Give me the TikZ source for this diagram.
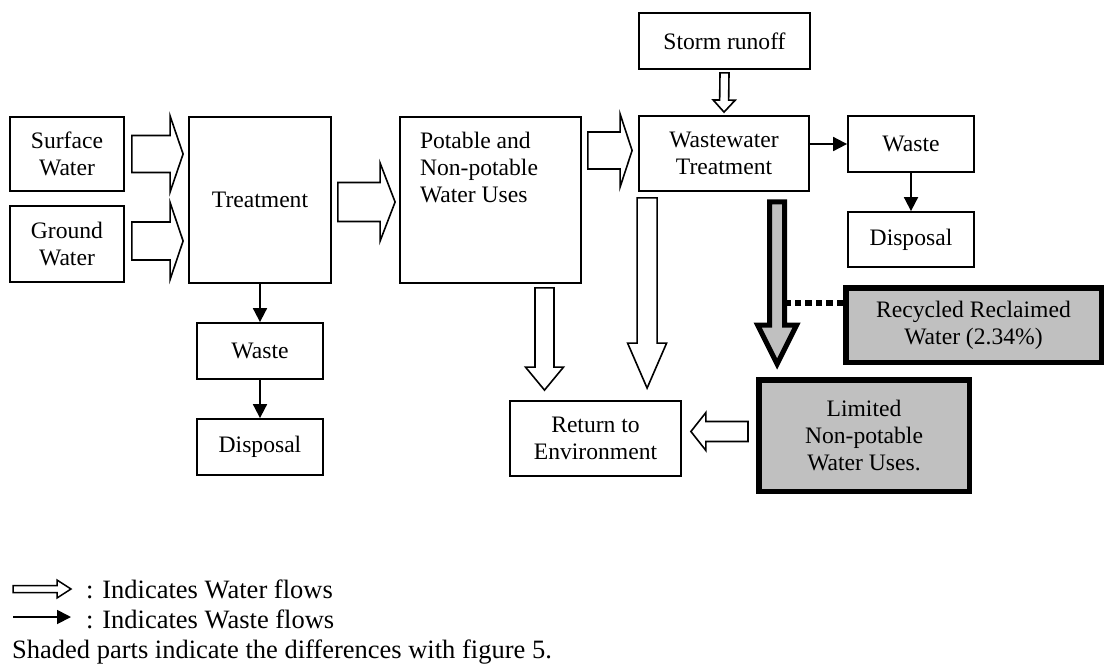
\documentclass[tikz,border=0pt]{standalone}
\usepackage{fontspec}
\setmainfont{Liberation Serif}
\usetikzlibrary{calc,arrows.meta}
\definecolor{shadegray}{RGB}{192,192,192}
\newcommand\boxfont{\fontsize{23.6}{27}\selectfont}
\newcommand\legfont{\fontsize{26.5}{30}\selectfont}
% block arrow: [style]{start}{end}{shaft half width}{head half width}{head length}
\newcommand\barrow[6][]{%
  \coordinate (bahead) at ($(#3)!#6!(#2)$);
  \draw[flowarrow,#1] ($(#2)!#4!90:(#3)$) -- ($(bahead)!#4!90:(#3)$) --
    ($(bahead)!#5!90:(#3)$) -- (#3) -- ($(bahead)!#5!-90:(#3)$) --
    ($(bahead)!#4!-90:(#3)$) -- ($(#2)!#4!-90:(#3)$) -- cycle;}
\tikzset{
  box/.style={draw, line width=1.8pt, align=center, inner sep=0pt, font=\boxfont},
  shadebox/.style={draw, line width=5.5pt, fill=shadegray, align=center, inner sep=0pt, font=\boxfont},
  flowarrow/.style={draw, line width=1.6pt, fill=white, miter limit=20},
  shadearrow/.style={line width=5pt, fill=shadegray},
  wasteflow/.style={line width=1.8pt, -{Triangle[length=14pt,width=14pt]}},
  dotline/.style={line width=5.5pt, dash pattern=on 6.5pt off 4pt},
  legtext/.style={inner sep=0pt, font=\legfont}
}
\begin{document}
\begin{tikzpicture}[x=1pt,y=-1pt]
\useasboundingbox (0,0) rectangle (1107,665);
% nodes
\node[box, minimum width=114pt, minimum height=74pt] (sw) at (67,154) {Surface\\Water};
\node[box, minimum width=114pt, minimum height=76pt] (gw) at (67,244) {Ground\\Water};
\node[box, minimum width=142pt, minimum height=166pt] (treat) at (260,200) {Treatment};
\node[box, minimum width=181pt, minimum height=166pt] (pot) at (490.5,200)
  {\parbox[c][136pt][t]{141pt}{\raggedright Potable and\\Non-potable\\Water Uses}};
\node[box, minimum width=171pt, minimum height=56pt] (storm) at (724.5,41) {Storm runoff};
\node[box, minimum width=170pt, minimum height=75pt] (ww) at (724,153.5) {Wastewater\\Treatment};
\node[box, minimum width=126pt, minimum height=56pt] (wasteR) at (911,144) {Waste};
\node[box, minimum width=126pt, minimum height=55pt] (dispR) at (911,239.5) {Disposal};
\node[shadebox, minimum width=255.5pt, minimum height=74.5pt] (recyc) at (973.5,325) {Recycled Reclaimed\\Water (2.34\%)};
\node[shadebox, minimum width=210.5pt, minimum height=111.5pt] (limited) at (864,435.5) {Limited\\Non-potable\\Water Uses.};
\node[box, minimum width=171pt, minimum height=75pt] (ret) at (595.5,438.5) {Return to\\Environment};
\node[box, minimum width=126pt, minimum height=56pt] (wasteL) at (260,351) {Waste};
\node[box, minimum width=126pt, minimum height=56pt] (dispL) at (260,447) {Disposal};
% water flows
\barrow{$(sw.east)+(7,0)$}{$(sw.east -| treat.west)+(-5,0)$}{18.5pt}{38pt}{13pt}
\barrow{$(gw.east)+(7,-3)$}{$(gw.east -| treat.west)+(-5,-3)$}{19pt}{38.5pt}{13pt}
\barrow{$(treat.east)+(6,2)$}{$(treat.east -| pot.west)+(-4,2)$}{19.5pt}{39pt}{15pt}
\barrow{$(pot.east |- ww.west)+(6,-3)$}{$(ww.west)+(-6,-3)$}{18.5pt}{36.5pt}{12pt}
\barrow{$(storm.south)+(0,3)$}{$(ww.north)+(0,-3)$}{4.5pt}{11pt}{12pt}
\barrow{$(ww.south west)+(9,6)$}{$(ww.south west |- ret.north)+(9,-12)$}{10pt}{19.5pt}{45pt}
\barrow{$(pot.south)+(54,4)$}{$(pot.south |- ret.north)+(54,-10)$}{9.5pt}{19pt}{23pt}
\barrow{$(limited.west)+(-8,-4)$}{$(ret.east |- limited.west)+(9,-4)$}{10pt}{19pt}{15pt}
% shaded recycled flow
\coordinate (rs) at ($(ww.south west)+(139,10)$);
\coordinate (re) at ($(ww.south west |- limited.north)+(139,-13)$);
\barrow[shadearrow]{rs}{re}{7.5pt}{19.5pt}{39pt}
\coordinate (dotend) at ($(rs |- recyc.west)+(3,-22)$);
\draw[dotline] ($(recyc.west)+(0,-22)$) -- (dotend);
% waste flows
\draw[wasteflow] (treat.south) -- (wasteL.north);
\draw[wasteflow] (wasteL.south) -- (dispL.north);
\draw[wasteflow] (ww.east |- wasteR.west) -- (wasteR.west);
\draw[wasteflow] (wasteR.south) -- (dispR.north);
% legend
\node[legtext, anchor=base west] (l1) at (86,598) {: Indicates Water flows};
\node[legtext, anchor=base west] (l2) at (86,628) {: Indicates Waste flows};
\node[legtext, anchor=base west] (l3) at (12,658) {Shaded parts indicate the differences with figure 5.};
\barrow[line width=1.5pt]{$(l1.base west)+(-73,-9)$}{$(l1.base west)+(-15,-9)$}{3.5pt}{9pt}{14pt}
\draw[wasteflow] ($(l2.base west)+(-73,-11)$) -- ($(l2.base west)+(-15,-11)$);
\end{tikzpicture}
\end{document}
